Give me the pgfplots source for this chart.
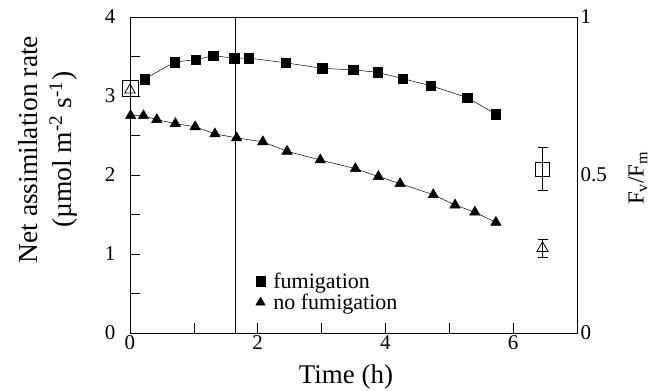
\documentclass[border=0pt]{standalone}
\usepackage{pgfplots}
\pgfplotsset{compat=1.18}
\usepackage{fontspec}
\setmainfont{Liberation Serif}

\begin{document}
\begin{tikzpicture}[font=\fontsize{21}{24}\selectfont]
\begin{axis}[name=ax, scale only axis, width=447pt, height=316pt,
  xmin=0, xmax=7, ymin=0, ymax=4,
  xtick={0,2,4,6}, minor xtick={1,3,5},
  ytick={0,1,2,3,4}, minor ytick={0.5,1.5,2.5,3.5},
  tick pos=left, tick align=inside,
  major tick length=10pt, minor tick length=10pt,
  tick style={black, line width=0.6pt},
  axis line style={line width=0.6pt},
  /pgf/number format/assume math mode=true,
  ticklabel style={font=\fontsize{21}{24}\selectfont},
  yticklabel style={xshift=-11pt},
  xticklabel style={yshift=1pt},
  clip=false,
  xlabel={Time (h)},
  xlabel style={font=\fontsize{27}{30}\selectfont, at={(axis description cs:0.483,-0.139)}, anchor=center},
  ylabel={Net assimilation rate\\(µmol m\textsuperscript{-2} s\textsuperscript{-1})},
  ylabel style={font=\fontsize{27.5}{34}\selectfont, align=center, at={(axis description cs:-0.1846,0.58)}, anchor=center},
  legend style={draw=none, fill=none, at={(axis cs:1.95,0.80)}, anchor=north west, font=\fontsize{22}{22}\selectfont, row sep=0pt, inner sep=1pt},
  legend cell align=left,
]
\addlegendimage{only marks, mark=square*, mark size=4.8pt, black}
\addlegendentry{\hspace{6pt}fumigation}
\addlegendimage{only marks, mark=triangle*, mark size=5.5pt, black}
\addlegendentry{\hspace{6pt}no fumigation}

\addplot[black, line width=0.5pt, forget plot] coordinates {(1.65,0)(1.65,4)};

\addplot[black, line width=0.5pt, mark=square*, mark size=4.8pt, forget plot] coordinates {
(0.23,3.215)(0.70,3.43)(1.03,3.46)(1.30,3.51)(1.63,3.48)(1.86,3.48)(2.44,3.42)(3.01,3.35)(3.50,3.33)(3.88,3.30)(4.27,3.22)(4.71,3.13)(5.28,2.98)(5.73,2.77)};

\addplot[black, line width=0.5pt, mark=triangle*, mark size=6pt, forget plot] coordinates {
(0.01,2.75)(0.21,2.75)(0.42,2.70)(0.71,2.65)(1.02,2.61)(1.33,2.52)(1.67,2.47)(2.08,2.42)(2.46,2.30)(2.98,2.19)(3.53,2.08)(3.89,1.98)(4.23,1.89)(4.75,1.75)(5.09,1.62)(5.40,1.53)(5.73,1.40)};
\end{axis}

\begin{axis}[scale only axis, width=447pt, height=316pt,
  xmin=0, xmax=7, ymin=0, ymax=1,
  axis y line*=right, axis x line=none,
  ytick={0,0.5,1}, major tick length=0pt,
  axis line style={line width=0.6pt},
  /pgf/number format/assume math mode=true,
  ticklabel style={font=\fontsize{21}{24}\selectfont},
  clip=false,
  ylabel={F\textsubscript{v}/F\textsubscript{m}},
  ylabel style={font=\fontsize{23}{26}\selectfont, at={(axis description cs:1.1365,0.49)}, anchor=center},
]
\addplot[black, only marks, mark=square, mark size=8pt, mark options={line width=0.8pt}] coordinates {(0,0.774)};
\addplot[black, only marks, mark=triangle, mark size=6pt, mark options={line width=0.8pt}] coordinates {(0,0.769)};
\addplot[black, only marks, mark=square, mark size=7pt, mark options={line width=0.8pt, fill=white},
  error bars/.cd, y dir=both, y explicit, error bar style={line width=0.8pt}, error mark options={rotate=90, mark size=5pt, line width=0.8pt}]
  coordinates {(6.46,0.519) +- (0,0.068)};
\addplot[black, only marks, mark=triangle, mark size=6.5pt, mark options={line width=0.8pt, fill=white},
  error bars/.cd, y dir=both, y explicit, error bar style={line width=0.8pt}, error mark options={rotate=90, mark size=5pt, line width=0.8pt}]
  coordinates {(6.46,0.268) +- (0,0.028)};
\end{axis}

\pgfresetboundingbox
\path[use as bounding box] ([xshift=-130pt,yshift=-58pt]ax.south west) rectangle ([xshift=521pt,yshift=333pt]ax.south west);
\end{tikzpicture}
\end{document}
